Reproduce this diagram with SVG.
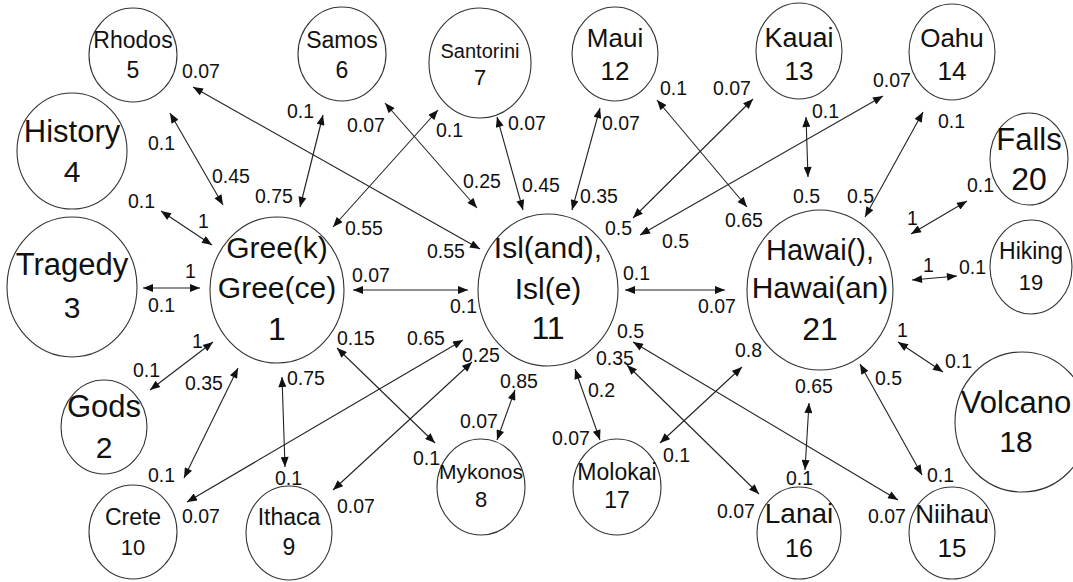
<svg xmlns="http://www.w3.org/2000/svg" width="1073" height="582" viewBox="0 0 1073 582">
<style>
.n{fill:none;stroke:#333;stroke-width:1.1}
.t{font-family:"Liberation Sans",Arial,sans-serif;fill:#111;text-anchor:middle}
.l{font-family:"Liberation Sans",Arial,sans-serif;fill:#111;font-size:19.5px}
.e{stroke:#222;stroke-width:1.1;fill:none;marker-start:url(#ah);marker-end:url(#ah)}
</style>
<defs>
<marker id="ah" viewBox="0 0 10 8" refX="10" refY="4" markerWidth="11" markerHeight="8" markerUnits="userSpaceOnUse" orient="auto-start-reverse">
<path d="M0,0 L10,4 L0,8 z" fill="#111"/>
</marker>
</defs>
<rect width="1073" height="582" fill="#fff"/>
<g id="connectors">
<line class="e" x1="193" y1="87" x2="480" y2="249"/>
<line class="e" x1="170" y1="113" x2="223" y2="205"/>
<line class="e" x1="161" y1="211" x2="212" y2="245"/>
<line class="e" x1="323" y1="115" x2="300" y2="207"/>
<line class="e" x1="385" y1="103" x2="477" y2="208"/>
<line class="e" x1="438" y1="110" x2="333" y2="227"/>
<line class="e" x1="497" y1="117" x2="523" y2="210"/>
<line class="e" x1="600" y1="108" x2="572" y2="210"/>
<line class="e" x1="657" y1="100" x2="747" y2="207"/>
<line class="e" x1="753" y1="99" x2="633" y2="218"/>
<line class="e" x1="883" y1="96" x2="640" y2="235"/>
<line class="e" x1="806" y1="117" x2="808" y2="177"/>
<line class="e" x1="923" y1="112" x2="865" y2="217"/>
<line class="e" x1="967" y1="201" x2="911" y2="234"/>
<line class="e" x1="957" y1="276" x2="912" y2="280"/>
<line class="e" x1="898" y1="342" x2="943" y2="372"/>
<line class="e" x1="860" y1="364" x2="922" y2="475"/>
<line class="e" x1="809" y1="403" x2="805" y2="470"/>
<line class="e" x1="742" y1="367" x2="660" y2="443"/>
<line class="e" x1="633" y1="342" x2="898" y2="500"/>
<line class="e" x1="627" y1="365" x2="759" y2="494"/>
<line class="e" x1="575" y1="369" x2="600" y2="440"/>
<line class="e" x1="515" y1="390" x2="497" y2="440"/>
<line class="e" x1="337" y1="348" x2="435" y2="443"/>
<line class="e" x1="463" y1="340" x2="187" y2="502"/>
<line class="e" x1="472" y1="362" x2="333" y2="490"/>
<line class="e" x1="282" y1="377" x2="285" y2="467"/>
<line class="e" x1="238" y1="368" x2="184" y2="478"/>
<line class="e" x1="213" y1="342" x2="150" y2="390"/>
<line class="e" x1="143" y1="288" x2="200" y2="288"/>
<line class="e" x1="353" y1="290" x2="468" y2="290"/>
<line class="e" x1="625" y1="290" x2="725" y2="290"/>
</g>
<g id="edge-labels">
<text class="l" x="182" y="78">0.07</text>
<text class="l" x="427" y="258">0.55</text>
<text class="l" x="148" y="150">0.1</text>
<text class="l" x="212" y="183">0.45</text>
<text class="l" x="128" y="208">0.1</text>
<text class="l" x="198" y="228">1</text>
<text class="l" x="287" y="118">0.1</text>
<text class="l" x="255" y="203">0.75</text>
<text class="l" x="347" y="132">0.07</text>
<text class="l" x="463" y="188">0.25</text>
<text class="l" x="436" y="137">0.1</text>
<text class="l" x="345" y="235">0.55</text>
<text class="l" x="508" y="130">0.07</text>
<text class="l" x="522" y="192">0.45</text>
<text class="l" x="602" y="130">0.07</text>
<text class="l" x="580" y="203">0.35</text>
<text class="l" x="660" y="95">0.1</text>
<text class="l" x="725" y="227">0.65</text>
<text class="l" x="713" y="95">0.07</text>
<text class="l" x="605" y="235">0.5</text>
<text class="l" x="873" y="87">0.07</text>
<text class="l" x="662" y="248">0.5</text>
<text class="l" x="812" y="118">0.1</text>
<text class="l" x="793" y="203">0.5</text>
<text class="l" x="938" y="128">0.1</text>
<text class="l" x="847" y="203">0.5</text>
<text class="l" x="967" y="192">0.1</text>
<text class="l" x="907" y="225">1</text>
<text class="l" x="959" y="274">0.1</text>
<text class="l" x="923" y="272">1</text>
<text class="l" x="897" y="337">1</text>
<text class="l" x="945" y="368">0.1</text>
<text class="l" x="875" y="385">0.5</text>
<text class="l" x="927" y="482">0.1</text>
<text class="l" x="795" y="393">0.65</text>
<text class="l" x="786" y="485">0.1</text>
<text class="l" x="735" y="357">0.8</text>
<text class="l" x="663" y="462">0.1</text>
<text class="l" x="617" y="338">0.5</text>
<text class="l" x="868" y="523">0.07</text>
<text class="l" x="596" y="365">0.35</text>
<text class="l" x="717" y="518">0.07</text>
<text class="l" x="588" y="397">0.2</text>
<text class="l" x="552" y="445">0.07</text>
<text class="l" x="500" y="388">0.85</text>
<text class="l" x="460" y="428">0.07</text>
<text class="l" x="337" y="345">0.15</text>
<text class="l" x="413" y="465">0.1</text>
<text class="l" x="407" y="345">0.65</text>
<text class="l" x="182" y="523">0.07</text>
<text class="l" x="462" y="362">0.25</text>
<text class="l" x="337" y="513">0.07</text>
<text class="l" x="287" y="385">0.75</text>
<text class="l" x="275" y="485">0.1</text>
<text class="l" x="185" y="390">0.35</text>
<text class="l" x="148" y="482">0.1</text>
<text class="l" x="192" y="348">1</text>
<text class="l" x="133" y="377">0.1</text>
<text class="l" x="185" y="278">1</text>
<text class="l" x="148" y="312">0.1</text>
<text class="l" x="352" y="282">0.07</text>
<text class="l" x="450" y="313">0.1</text>
<text class="l" x="623" y="280">0.1</text>
<text class="l" x="698" y="313">0.07</text>
</g>
<g id="node-1"><ellipse class="n" cx="277" cy="290" rx="67" ry="73"/><text class="t" x="277" y="258" font-size="30">Gree(k)</text><text class="t" x="277" y="298" font-size="30">Gree(ce)</text><text class="t" x="277" y="340" font-size="32">1</text></g>
<g id="node-2"><ellipse class="n" cx="104" cy="427" rx="43" ry="47"/><text class="t" x="104" y="417" font-size="31">Gods</text><text class="t" x="104" y="458" font-size="30">2</text></g>
<g id="node-3"><ellipse class="n" cx="72" cy="287" rx="65" ry="70"/><text class="t" x="72" y="275" font-size="31">Tragedy</text><text class="t" x="72" y="318" font-size="30">3</text></g>
<g id="node-4"><ellipse class="n" cx="72" cy="151" rx="55" ry="58"/><text class="t" x="72" y="142" font-size="31">History</text><text class="t" x="72" y="182" font-size="30">4</text></g>
<g id="node-5"><ellipse class="n" cx="133" cy="55" rx="44" ry="47"/><text class="t" x="133" y="48" font-size="23">Rhodos</text><text class="t" x="133" y="78" font-size="23">5</text></g>
<g id="node-6"><ellipse class="n" cx="342" cy="54" rx="44" ry="47"/><text class="t" x="342" y="48" font-size="23">Samos</text><text class="t" x="342" y="78" font-size="23">6</text></g>
<g id="node-7"><ellipse class="n" cx="480" cy="63" rx="51" ry="55"/><text class="t" x="480" y="58" font-size="20">Santorini</text><text class="t" x="480" y="85" font-size="22">7</text></g>
<g id="node-8"><ellipse class="n" cx="481" cy="487" rx="44" ry="48"/><text class="t" x="481" y="479" font-size="21">Mykonos</text><text class="t" x="481" y="507" font-size="22">8</text></g>
<g id="node-9"><ellipse class="n" cx="289" cy="533" rx="43" ry="47"/><text class="t" x="289" y="525" font-size="23">Ithaca</text><text class="t" x="289" y="555" font-size="23">9</text></g>
<g id="node-10"><ellipse class="n" cx="133" cy="532" rx="44" ry="47"/><text class="t" x="133" y="525" font-size="23">Crete</text><text class="t" x="133" y="555" font-size="22">10</text></g>
<g id="node-11"><ellipse class="n" cx="548" cy="290" rx="70" ry="76"/><text class="t" x="548" y="258" font-size="30">Isl(and),</text><text class="t" x="548" y="299" font-size="30">Isl(e)</text><text class="t" x="548" y="339" font-size="32">11</text></g>
<g id="node-12"><ellipse class="n" cx="615" cy="54" rx="43" ry="47"/><text class="t" x="615" y="47" font-size="26">Maui</text><text class="t" x="615" y="80" font-size="26">12</text></g>
<g id="node-13"><ellipse class="n" cx="799" cy="51" rx="43" ry="48"/><text class="t" x="799" y="47" font-size="27">Kauai</text><text class="t" x="799" y="80" font-size="26">13</text></g>
<g id="node-14"><ellipse class="n" cx="952" cy="52" rx="43" ry="48"/><text class="t" x="952" y="47" font-size="26">Oahu</text><text class="t" x="952" y="80" font-size="26">14</text></g>
<g id="node-15"><ellipse class="n" cx="952" cy="533" rx="43" ry="46"/><text class="t" x="952" y="523" font-size="26">Niihau</text><text class="t" x="952" y="557" font-size="26">15</text></g>
<g id="node-16"><ellipse class="n" cx="799" cy="533" rx="42" ry="46"/><text class="t" x="799" y="523" font-size="28">Lanai</text><text class="t" x="799" y="557" font-size="25">16</text></g>
<g id="node-17"><ellipse class="n" cx="617" cy="487" rx="44" ry="48"/><text class="t" x="617" y="480" font-size="23">Molokai</text><text class="t" x="617" y="508" font-size="23">17</text></g>
<g id="node-18"><ellipse class="n" cx="1022" cy="422" rx="67" ry="70"/><text class="t" x="1016" y="413" font-size="31">Volcano</text><text class="t" x="1016" y="452" font-size="30">18</text></g>
<g id="node-19"><ellipse class="n" cx="1031" cy="267" rx="41" ry="47"/><text class="t" x="1031" y="259" font-size="23">Hiking</text><text class="t" x="1031" y="290" font-size="22">19</text></g>
<g id="node-20"><ellipse class="n" cx="1029" cy="159" rx="39" ry="46"/><text class="t" x="1029" y="150" font-size="31">Falls</text><text class="t" x="1029" y="190" font-size="32">20</text></g>
<g id="node-21"><ellipse class="n" cx="820" cy="290" rx="73" ry="80"/><text class="t" x="820" y="260" font-size="29">Hawai(),</text><text class="t" x="820" y="298" font-size="30">Hawai(an)</text><text class="t" x="820" y="340" font-size="32">21</text></g>
</svg>
